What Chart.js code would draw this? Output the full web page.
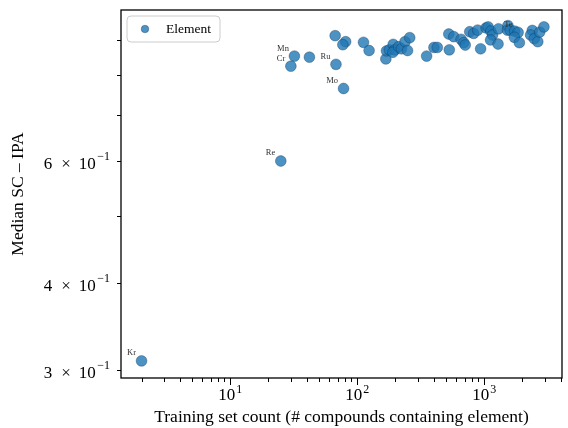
<!DOCTYPE html>
<html>
<head>
<meta charset="utf-8">
<script src="https://cdn.jsdelivr.net/npm/chart.js@4"></script>
<style>
  body { margin: 0; background: #fff; }
</style>
</head>
<body>
<canvas id="myChart" width="568" height="428"></canvas>
<script>
// training set count per element
const trainCount = [
  2, 25, 78, 32, 30, 42, 68, 67, 81, 77,
  112, 124, 168, 170, 179, 192, 198, 191, 212, 223,
  238, 259, 249, 352, 402, 427, 531, 526, 576, 657,
  690, 709, 769, 826, 888, 937, 1035, 1073, 1128, 1163,
  1122, 1285, 1296, 1538, 1525, 1600, 1739, 1849, 1729, 1892,
  2392, 2320, 2480, 2642, 2738, 2954,
];
// median SC - IPA per element
const medianScIpa = [
  0.309, 0.601, 0.765, 0.852, 0.824, 0.849, 0.829, 0.912, 0.894, 0.885,
  0.892, 0.868, 0.844, 0.867, 0.870, 0.886, 0.870, 0.863, 0.879, 0.873,
  0.894, 0.906, 0.868, 0.852, 0.877, 0.877, 0.870, 0.917, 0.909, 0.901,
  0.891, 0.884, 0.924, 0.919, 0.929, 0.873, 0.936, 0.939, 0.926, 0.914,
  0.899, 0.887, 0.933, 0.943, 0.929, 0.929, 0.926, 0.922, 0.907, 0.891,
  0.928, 0.914, 0.903, 0.894, 0.923, 0.939,
];
// element names shown next to some points
const elementNames = {0: "Kr", 1: "Re", 2: "Mo", 3: "Mn", 4: "Cr", 6: "Ru", 47: "Te"};

const xTicks = [10, 100, 1000];
const xTickLabels = [["10", "1"], ["10", "2"], ["10", "3"]];
const yTicks = [0.3, 0.4, 0.6];
const yTickLabels = [["3", "10", "\u22121"], ["4", "10", "\u22121"], ["6", "10", "\u22121"]];

const serif = "'Liberation Serif', 'DejaVu Serif', serif";
const pointFill = "rgba(31, 119, 180, 0.8)";
const pointEdge = "rgba(10, 40, 70, 0.55)";

const axesDecor = {
  id: "axesDecor",
  afterDraw(chart) {
    const c = chart.ctx;
    const a = chart.chartArea;
    const xs = chart.scales.x;
    const ys = chart.scales.y;
    c.save();
    c.strokeStyle = "#000";
    c.lineWidth = 1;
    // minor / major tick marks
    for (let d = -1; d <= 3; d++) {
      for (let k = 1; k <= 9; k++) {
        const v = k * Math.pow(10, d);
        const len = k === 1 ? 7 : 4;
        if (v >= xs.min && v <= xs.max) {
          const px = Math.round(xs.getPixelForValue(v)) + 0.5;
          c.beginPath(); c.moveTo(px, a.bottom); c.lineTo(px, a.bottom + len); c.stroke();
        }
        if (v >= ys.min && v <= ys.max) {
          const py = Math.round(ys.getPixelForValue(v)) + 0.5;
          c.beginPath(); c.moveTo(a.left, py); c.lineTo(a.left - len, py); c.stroke();
        }
      }
    }
    // frame
    c.lineWidth = 1.3;
    c.strokeRect(a.left, a.top, a.right - a.left, a.bottom - a.top);

    // x tick labels
    c.fillStyle = "#000";
    c.textBaseline = "alphabetic";
    c.textAlign = "left";
    xTicks.forEach((v, i) => {
      const px = xs.getPixelForValue(v);
      c.font = "17px " + serif;
      const w1 = c.measureText(xTickLabels[i][0]).width;
      c.font = "12px " + serif;
      const w2 = c.measureText(xTickLabels[i][1]).width;
      const x0 = px - (w1 + w2 + 1) / 2;
      c.font = "17px " + serif;
      c.fillText(xTickLabels[i][0], x0, a.bottom + 22);
      c.font = "12px " + serif;
      c.fillText(xTickLabels[i][1], x0 + w1 + 1, a.bottom + 15);
    });
    // y tick labels: "d × 10^-1"
    c.textAlign = "right";
    yTicks.forEach((v, i) => {
      const py = ys.getPixelForValue(v);
      const [digit, base, sup] = yTickLabels[i];
      let xr = a.left - 11;
      c.font = "12px " + serif;
      c.fillText(sup, xr, py - 1);
      xr -= c.measureText(sup).width + 1.5;
      c.font = "17px " + serif;
      c.fillText(base, xr, py + 8);
      xr -= c.measureText(base).width + 8;
      c.fillText("\u00d7", xr, py + 8);
      xr -= c.measureText("\u00d7").width + 9;
      c.fillText(digit, xr, py + 8);
    });

    // element names
    const meta = chart.getDatasetMeta(0);
    c.font = "8.5px " + serif;
    c.fillStyle = "#333";
    c.textAlign = "right";
    c.textBaseline = "bottom";
    Object.keys(elementNames).forEach(k => {
      const el = meta.data[+k];
      c.fillText(elementNames[k], el.x - 5.5, el.y - 3.5);
    });

    // legend in the upper left of the plot
    const lx = a.left + 6, ly = a.top + 6, lw = 93, lh = 26, r = 4;
    c.beginPath();
    c.moveTo(lx + r, ly);
    c.arcTo(lx + lw, ly, lx + lw, ly + lh, r);
    c.arcTo(lx + lw, ly + lh, lx, ly + lh, r);
    c.arcTo(lx, ly + lh, lx, ly, r);
    c.arcTo(lx, ly, lx + lw, ly, r);
    c.closePath();
    c.fillStyle = "rgba(255,255,255,0.8)";
    c.fill();
    c.strokeStyle = "#ccc";
    c.lineWidth = 1;
    c.stroke();
    c.beginPath();
    c.arc(lx + 18, ly + lh / 2, 3.8, 0, Math.PI * 2);
    c.fillStyle = pointFill;
    c.fill();
    c.strokeStyle = pointEdge;
    c.lineWidth = 0.6;
    c.stroke();
    c.fillStyle = "#000";
    c.font = "13.5px " + serif;
    c.textAlign = "left";
    c.textBaseline = "middle";
    c.fillText("Element", lx + 39, ly + lh / 2);
    c.restore();
  },
};

const ctx = document.getElementById("myChart");

new Chart(ctx, {
  type: "scatter",
  data: {
    datasets: [
      {
        label: "Element",
        data: trainCount.map((x, i) => ({ x: x, y: medianScIpa[i] })),
        pointRadius: 5.4,
        backgroundColor: pointFill,
        borderColor: pointEdge,
        borderWidth: 0.6,
      },
    ],
  },
  options: {
    responsive: false,
    animation: false,
    layout: { padding: { top: 10, right: 3, left: 0, bottom: 0 } },
    plugins: {
      legend: { display: false },
      tooltip: { enabled: false },
    },
    scales: {
      x: {
        type: "logarithmic",
        min: 1.378,
        max: 4100,
        ticks: { display: false },
        grid: { display: false },
        border: { display: false },
        title: {
          display: true,
          text: "Training set count (# compounds containing element)",
          color: "#000",
          font: { family: serif, size: 17.5 },
          padding: { top: 0, bottom: 0 },
        },
        afterFit: (s) => { s.height = 50; },
      },
      y: {
        type: "logarithmic",
        min: 0.2919,
        max: 0.9933,
        ticks: { display: false },
        grid: { display: false },
        border: { display: false },
        title: {
          display: true,
          text: "Median SC \u2013 IPA",
          color: "#000",
          font: { family: serif, size: 17.5 },
          padding: { top: 8, bottom: 0 },
        },
        afterFit: (s) => { s.width = 121; },
      },
    },
  },
  plugins: [axesDecor],
});
</script>
</body>
</html>
